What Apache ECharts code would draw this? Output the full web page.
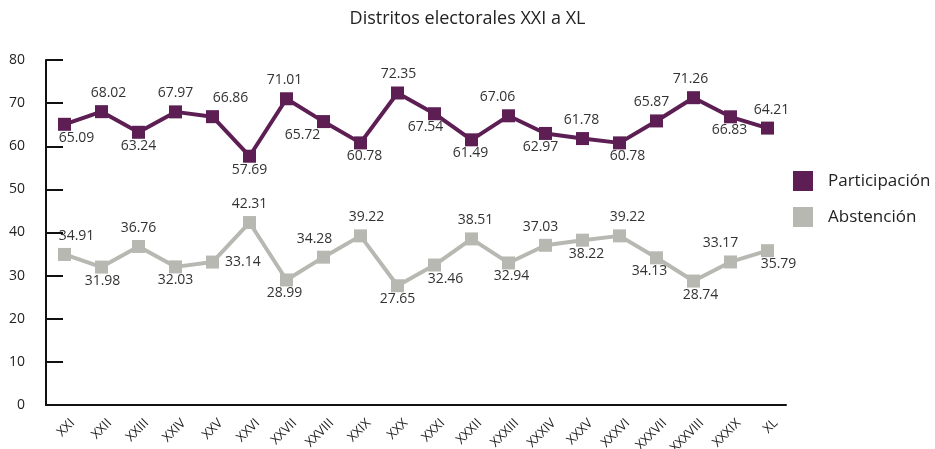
<!DOCTYPE html>
<html>
<head>
<meta charset="utf-8">
<script src="https://cdn.jsdelivr.net/npm/echarts@6/dist/echarts.min.js"></script>
<style>
html,body{margin:0;padding:0;background:#fff;}
#c{width:935px;height:449px;}
</style>
</head>
<body>
<div id="c"></div>
<script>
const title = 'Distritos electorales XXI a XL';
const categories = ['XXI','XXII','XXIII','XXIV','XXV','XXVI','XXVII','XXVIII','XXIX','XXX','XXXI','XXXII','XXXIII','XXXIV','XXXV','XXXVI','XXXVII','XXXVIII','XXXIX','XL'];
const participacion = [65.09,68.02,63.24,67.97,66.86,57.69,71.01,65.72,60.78,72.35,67.54,61.49,67.06,62.97,61.78,60.78,65.87,71.26,66.83,64.21];
const abstencion = [34.91,31.98,36.76,32.03,33.14,42.31,28.99,34.28,39.22,27.65,32.46,38.51,32.94,37.03,38.22,39.22,34.13,28.74,33.17,35.79];
const yTicks = [0,10,20,30,40,50,60,70,80];
const seriesNames = ['Participación','Abstención'];

// label placement (position, horizontal shift) per point
const placeP = [['bottom',12],['top',7],['bottom',0],['top',0],['top',18],['bottom',0],['top',-2],['bottom',-21],['bottom',4],['top',1],
                ['bottom',-9],['bottom',-1],['top',-11],['bottom',-5],['top',-1],['bottom',8],['top',-5],['top',-3],['bottom',-1],['top',4]];
const placeA = [['top',12],['bottom',1],['top',0],['bottom',0],['right',0],['top',0],['bottom',-2],['top',-9],['top',6],['bottom',0],
                ['bottom',11],['top',4],['bottom',3],['top',-5],['bottom',4],['top',8],['bottom',-7],['bottom',7],['top',-10],['bottom',11]];

function build(vals, place){
  return vals.map((v,i)=>{
    const p = place[i][0];
    return {
      value: v,
      label: {
        position: p,
        distance: p==='top'?5:(p==='right'?6:0)
      }
    };
  });
}
function shifter(place){
  return function(params){ return {dx: place[params.dataIndex][1], hideOverlap: false}; };
}

const PURPLE = '#5c1e53';
const GRAY = '#b8b8b3';
const FONT = '"Open Sans", "Noto Sans", sans-serif';

const chart = echarts.init(document.getElementById('c'));
chart.setOption({
  animation: false,
  textStyle: {fontFamily: FONT},
  title: {
    text: title, left: 'center', top: 5,
    textStyle: {fontSize: 18, fontWeight: 'normal', color: '#222', fontFamily: FONT}
  },
  legend: {
    orient: 'vertical', left: 788, top: 166,
    itemWidth: 20, itemHeight: 20, itemGap: 16, icon: 'rect',
    textStyle: {fontSize: 17, color: '#222', padding: [0,0,0,10], fontFamily: FONT},
    data: seriesNames
  },
  grid: {left: 46, right: 149, top: 60, bottom: 44, containLabel: false, outerBoundsMode: 'none'},
  xAxis: {
    type: 'category', data: categories, boundaryGap: true,
    axisLine: {lineStyle: {color: '#111', width: 2}},
    axisTick: {inside: true, length: 8, lineStyle: {color: '#111', width: 2}},
    axisLabel: {rotate: 45, interval: 0, fontSize: 13, color: '#222', margin: 8,
                verticalAlign: 'top', padding: [5,0,0,0], fontFamily: FONT},
    splitLine: {show: false}
  },
  yAxis: {
    type: 'value', min: yTicks[0], max: yTicks[yTicks.length-1], interval: 10,
    axisLine: {show: true, lineStyle: {color: '#111', width: 2}},
    axisTick: {show: true, inside: true, length: 17, lineStyle: {color: '#111', width: 2}},
    axisLabel: {fontSize: 14, color: '#222', margin: 21, fontFamily: FONT},
    splitLine: {show: false}
  },
  series: [
    {
      name: seriesNames[0], type: 'line', data: build(participacion, placeP),
      symbol: 'rect', symbolSize: 13, showAllSymbol: true,
      itemStyle: {color: PURPLE}, lineStyle: {color: PURPLE, width: 4},
      label: {show: true, fontSize: 14, color: '#333', fontFamily: FONT},
      labelLayout: shifter(placeP),
      emphasis: {disabled: true}
    },
    {
      name: seriesNames[1], type: 'line', data: build(abstencion, placeA),
      symbol: 'rect', symbolSize: 13, showAllSymbol: true,
      itemStyle: {color: GRAY}, lineStyle: {color: GRAY, width: 4},
      label: {show: true, fontSize: 14, color: '#333', fontFamily: FONT},
      labelLayout: shifter(placeA),
      emphasis: {disabled: true}
    }
  ]
});
</script>
</body>
</html>
